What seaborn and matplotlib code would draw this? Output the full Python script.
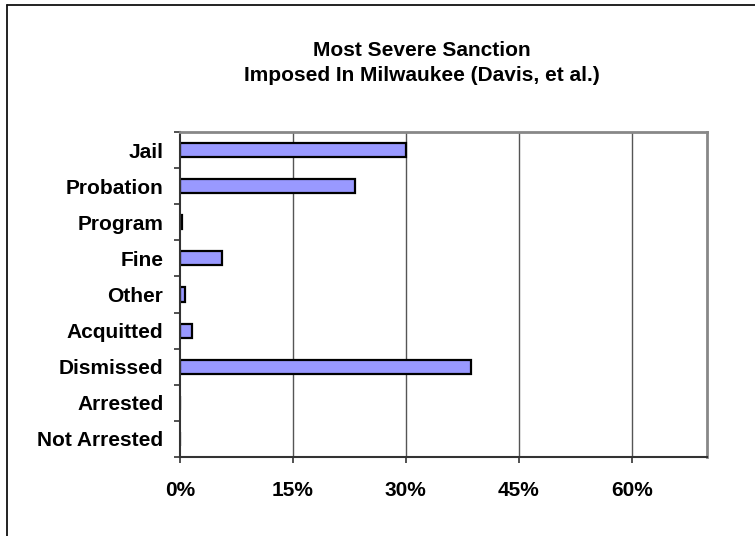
import matplotlib
matplotlib.use("Agg")
import matplotlib.pyplot as plt
from matplotlib.lines import Line2D
import numpy as np
import pandas as pd
import seaborn as sns

# Share of cases by most severe sanction (percent)
categories = ["Jail", "Probation", "Program", "Fine", "Other",
              "Acquitted", "Dismissed", "Arrested", "Not Arrested"]
percent = [30.0, 23.3, 0.2, 5.6, 0.7, 1.6, 38.7, 0.0, 0.0]
x_ticks = [0, 15, 30, 45, 60]
x_tick_labels = ["0%", "15%", "30%", "45%", "60%"]

df = pd.DataFrame({"sanction": categories, "percent": percent})

sns.set_theme(style="white")
plt.rcParams["font.family"] = ["Liberation Sans", "DejaVu Sans"]
plt.rcParams["text.color"] = "black"
plt.rcParams["xtick.color"] = "black"
plt.rcParams["ytick.color"] = "black"

FS = 15

W, H = 755, 536
fig = plt.figure(figsize=(W / 100, H / 100), dpi=100)
fig.patch.set_facecolor("white")

ax = fig.add_axes([180 / W, 1 - 457 / H, (707 - 180) / W, (457 - 132) / H])
sns.barplot(data=df, x="percent", y="sanction", order=categories,
            orient="h", color="#9999FF", width=0.39,
            edgecolor="black", linewidth=1.6, saturation=1, ax=ax)

ax.set_xlim(0, 70)
ax.set_ylim(len(categories) - 0.5, -0.5)
ax.set_xlabel("")
ax.set_ylabel("")

# vertical gridlines behind the bars
ax.set_axisbelow(True)
for v in x_ticks[1:]:
    ax.axvline(v, color="#555555", lw=1.0, zorder=0)

ax.set_xticks(x_ticks)
ax.set_xticklabels(x_tick_labels, fontsize=FS, fontweight="bold",
                   color="black")
ax.tick_params(axis="x", direction="out", length=4.5, width=1.2,
               color="#333333", pad=13, bottom=True)

# category labels centred, tick marks on the category boundaries
ax.set_yticks(np.arange(len(categories)))
ax.set_yticklabels(categories, fontsize=FS, fontweight="bold",
                   color="black")
ax.set_yticks(np.arange(len(categories) + 1) - 0.5, minor=True)
ax.tick_params(axis="y", which="major", length=0, pad=12)
ax.tick_params(axis="y", which="minor", direction="out", length=4.5,
               width=1.2, color="#333333", left=True)

for side in ("left", "bottom"):
    ax.spines[side].set_color("#333333")
    ax.spines[side].set_linewidth(1.5)
for side in ("top", "right"):
    ax.spines[side].set_color("#888888")
    ax.spines[side].set_linewidth(2.0)
    ax.spines[side].set_visible(True)

fig.text(422 / W, 1 - 63 / H,
         "Most Severe Sanction\nImposed In Milwaukee (Davis, et al.)",
         ha="center", va="center", fontsize=FS, fontweight="bold",
         color="black", linespacing=1.35)

# chart area border (top and left edges)
fig.add_artist(Line2D([7 / W, 1.0], [1 - 5 / H, 1 - 5 / H],
                      transform=fig.transFigure, color="#111111", lw=1.3))
fig.add_artist(Line2D([7 / W, 7 / W], [0.0, 1 - 5 / H],
                      transform=fig.transFigure, color="#111111", lw=1.3))

fig.savefig("out.png", dpi=100)
